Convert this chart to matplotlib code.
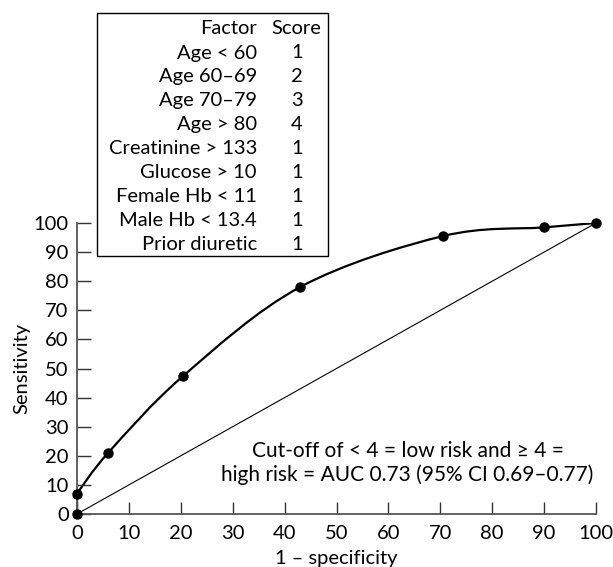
import matplotlib
matplotlib.use("Agg")
import matplotlib.pyplot as plt
from matplotlib.path import Path
from matplotlib.patches import PathPatch, Rectangle

plt.rcParams["font.family"] = ["Lato", "DejaVu Sans"]

# ROC points (1 - specificity, sensitivity)
fpr = [0, 0, 6, 20.5, 43, 70.5, 90, 100]
sens = [0, 7, 21, 47.5, 78, 95.5, 98.5, 100]

factors = ["Age < 60", "Age 60–69", "Age 70–79", "Age > 80", "Creatinine > 133",
           "Glucose > 10", "Female Hb < 11", "Male Hb < 13.4", "Prior diuretic"]
scores = [1, 2, 3, 4, 1, 1, 1, 1, 1]

ticks = list(range(0, 101, 10))
fs = 14.5

fig = plt.figure(figsize=(6.13, 5.67), dpi=100)
ax = fig.add_axes([77 / 613, 1 - 514 / 567, 519 / 613, 291 / 567])

# chance line
ax.plot([0, 100], [0, 100], color="black", lw=0.8)

# smooth curve through the points (Catmull-Rom as cubic beziers)
pts = list(zip(fpr[1:], sens[1:]))
verts = [(fpr[0], sens[0]), pts[0]]
codes = [Path.MOVETO, Path.LINETO]
for i in range(len(pts) - 1):
    p0 = pts[i - 1] if i > 0 else pts[i]
    p1 = pts[i]
    p2 = pts[i + 1]
    p3 = pts[i + 2] if i + 2 < len(pts) else pts[i + 1]
    c1 = (p1[0] + (p2[0] - p0[0]) / 6, p1[1] + (p2[1] - p0[1]) / 6)
    c2 = (p2[0] - (p3[0] - p1[0]) / 6, p2[1] - (p3[1] - p1[1]) / 6)
    verts += [c1, c2, p2]
    codes += [Path.CURVE4] * 3
ax.add_patch(PathPatch(Path(verts, codes), fill=False, lw=1.6, color="black", capstyle="round"))
ax.plot(fpr, sens, "o", color="black", ms=6.5, clip_on=False, zorder=5)

ax.set_xlim(0, 100)
ax.set_ylim(0, 100)
ax.set_xticks(ticks)
ax.set_yticks(ticks)
for s in ["top", "right"]:
    ax.spines[s].set_visible(False)
for s in ["left", "bottom"]:
    ax.spines[s].set_color("#555555")
    ax.spines[s].set_linewidth(1.3)
ax.tick_params(direction="in", length=10, width=1.0, color="#333333",
               labelsize=fs, pad=6)
ax.tick_params(axis="x", length=9, pad=8)
ax.set_xlabel("1 – specificity", fontsize=fs, labelpad=6)
ax.set_ylabel("Sensitivity", fontsize=fs, labelpad=2)

ax.text(0.637, 0.175, "Cut-off of < 4 = low risk and ≥ 4 =\nhigh risk = AUC 0.73 (95% CI 0.69–0.77)",
        transform=ax.transAxes, ha="center", va="center", fontsize=15,
        linespacing=1.2)

# score table box
fig.patches.append(Rectangle((97 / 613, 1 - 256 / 567), 231 / 613, 243 / 567,
                             transform=fig.transFigure, facecolor="white",
                             edgecolor="black", lw=1.0, zorder=10))
row_y = [29 + 24 * i for i in range(len(factors) + 1)]
fig.text(257 / 613, 1 - row_y[0] / 567, "Factor", ha="right", va="center", fontsize=fs, zorder=11)
fig.text(296 / 613, 1 - row_y[0] / 567, "Score", ha="center", va="center", fontsize=fs, zorder=11)
for i, (f, sc) in enumerate(zip(factors, scores)):
    y = 1 - row_y[i + 1] / 567
    fig.text(257 / 613, y, f, ha="right", va="center", fontsize=fs, zorder=11)
    fig.text(297 / 613, y, str(sc), ha="center", va="center", fontsize=fs, zorder=11)

fig.savefig("out.png", dpi=100)
